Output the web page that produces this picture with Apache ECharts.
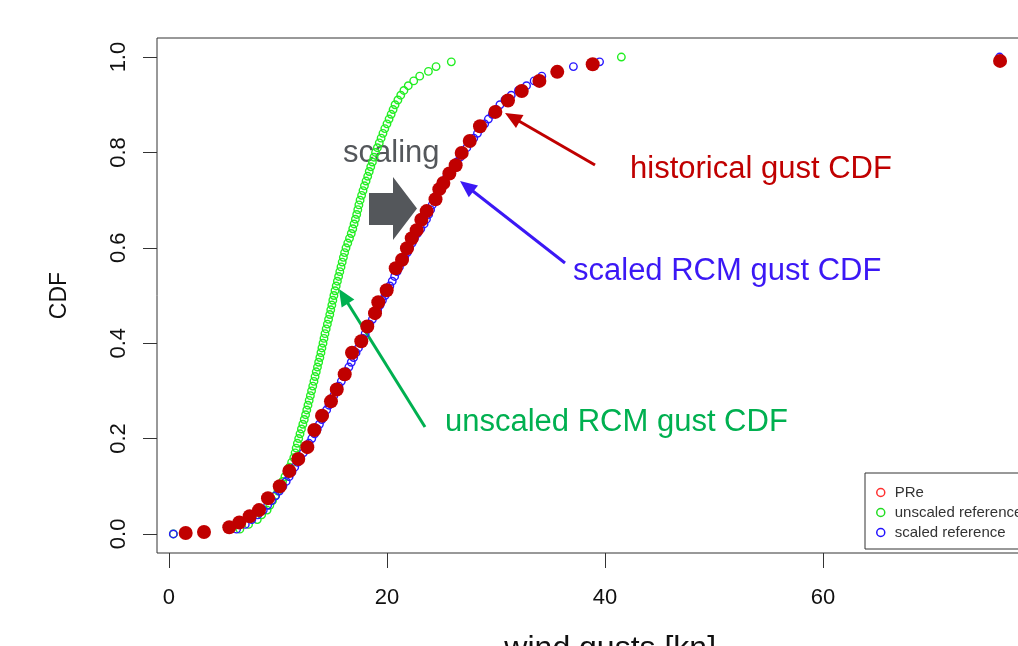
<!DOCTYPE html>
<html>
<head>
<meta charset="utf-8">
<script src="https://cdn.jsdelivr.net/npm/echarts@6/dist/echarts.min.js"></script>
<style>
html, body { margin: 0; padding: 0; background: #fff; }
#main { width: 1018px; height: 646px; }
</style>
</head>
<body>
<div id="main"></div>
<script>
// cdf levels shared by the two reference curves
var cdfLevels = [
    0.00, 0.01, 0.02, 0.03, 0.04, 0.05, 0.06, 0.07, 0.08, 0.09,
    0.10, 0.11, 0.12, 0.13, 0.14, 0.15, 0.16, 0.17, 0.18, 0.19,
    0.20, 0.21, 0.22, 0.23, 0.24, 0.25, 0.26, 0.27, 0.28, 0.29,
    0.30, 0.31, 0.32, 0.33, 0.34, 0.35, 0.36, 0.37, 0.38, 0.39,
    0.40, 0.41, 0.42, 0.43, 0.44, 0.45, 0.46, 0.47, 0.48, 0.49,
    0.50, 0.51, 0.52, 0.53, 0.54, 0.55, 0.56, 0.57, 0.58, 0.59,
    0.60, 0.61, 0.62, 0.63, 0.64, 0.65, 0.66, 0.67, 0.68, 0.69,
    0.70, 0.71, 0.72, 0.73, 0.74, 0.75, 0.76, 0.77, 0.78, 0.79,
    0.80, 0.81, 0.82, 0.83, 0.84, 0.85, 0.86, 0.87, 0.88, 0.89,
    0.90, 0.91, 0.92, 0.93, 0.94, 0.95, 0.96, 0.97, 0.98, 0.99,
    1.00
];

// unscaled reference (green)
var unscaledGust = [
    0.4, 6.5, 7.3, 8.1, 8.5, 9.0, 9.25, 9.5, 9.75, 10.0,
    10.2, 10.42, 10.64, 10.86, 11.05, 11.25, 11.45, 11.57, 11.67, 11.78,
    11.9, 12.02, 12.15, 12.28, 12.41, 12.53, 12.64, 12.75, 12.86, 12.97,
    13.08, 13.19, 13.3, 13.4, 13.51, 13.62, 13.73, 13.84, 13.94, 14.03,
    14.13, 14.22, 14.31, 14.42, 14.53, 14.64, 14.75, 14.84, 14.94, 15.03,
    15.13, 15.23, 15.34, 15.45, 15.56, 15.67, 15.78, 15.89, 16.0, 16.11,
    16.24, 16.4, 16.56, 16.72, 16.86, 16.98, 17.1, 17.22, 17.32, 17.42,
    17.53, 17.67, 17.8, 17.93, 18.08, 18.23, 18.37, 18.51, 18.66, 18.8,
    18.95, 19.12, 19.29, 19.46, 19.63, 19.8, 20.0, 20.19, 20.38, 20.56,
    20.74, 21.0, 21.26, 21.55, 21.95, 22.45, 23.0, 23.8, 24.5, 25.9,
    41.5
];

// scaled reference (blue)
var scaledGust = [
    0.4, 6.2, 7.0, 7.6, 8.15, 8.65, 9.05, 9.42, 9.78, 10.12,
    10.45, 10.75, 11.02, 11.28, 11.53, 11.8, 12.06, 12.32, 12.58, 12.84,
    13.1, 13.36, 13.6, 13.8, 14.02, 14.24, 14.46, 14.68, 14.9, 15.12,
    15.35, 15.58, 15.81, 16.04, 16.26, 16.5, 16.72, 16.94, 17.16, 17.38,
    17.6, 17.8, 18.0, 18.2, 18.42, 18.66, 18.9, 19.14, 19.36, 19.58,
    19.82, 20.04, 20.26, 20.48, 20.7, 20.92, 21.14, 21.38, 21.62, 21.86,
    22.08, 22.3, 22.52, 22.78, 23.1, 23.4, 23.62, 23.82, 24.0, 24.15,
    24.36, 24.56, 24.76, 24.94, 25.24, 25.5, 25.78, 26.1, 26.42, 26.72,
    27.02, 27.32, 27.64, 27.96, 28.3, 28.62, 28.96, 29.3, 29.66, 30.02,
    30.36, 30.82, 31.4, 32.06, 32.8, 33.5, 34.2, 35.7, 37.1, 39.5,
    76.2
];

// historical gusts (PRe, red dots)
var histGust = [
    1.53, 3.21, 5.53, 6.45, 7.40, 8.26, 9.08, 10.16, 11.04, 11.86,
    12.69, 13.33, 14.04, 14.86, 15.39, 16.12, 16.79, 17.64, 18.19, 18.90,
    19.20, 19.97, 20.80, 21.38, 21.83, 22.27, 22.72, 23.15, 23.64, 24.45,
    24.80, 25.17, 25.72, 26.30, 26.85, 27.59, 28.53, 29.94, 31.10, 32.36,
    33.98, 35.62, 38.87, 76.24
];
var histCdf = [
    0.002, 0.004, 0.014, 0.024, 0.037, 0.050, 0.075, 0.100, 0.132, 0.157,
    0.182, 0.218, 0.248, 0.278, 0.303, 0.335, 0.380, 0.404, 0.435, 0.463,
    0.486, 0.511, 0.557, 0.575, 0.599, 0.620, 0.637, 0.659, 0.677, 0.702,
    0.723, 0.736, 0.756, 0.773, 0.799, 0.824, 0.855, 0.885, 0.909, 0.929,
    0.950, 0.969, 0.985, 0.992
];

var xTicks = [0, 20, 40, 60];
var yTicks = [0, 0.2, 0.4, 0.6, 0.8, 1.0];

var pairUp = function(xs, ys) {
    var res = [];
    for (var i = 0; i < xs.length; i++) {
        res.push([xs[i], ys[i]]);
    }
    return res;
};

var FONT = '"Liberation Sans", Arial, sans-serif';

// line with a filled triangular head at (x2, y2)
function arrow(x1, y1, x2, y2, color) {
    var dx = x2 - x1, dy = y2 - y1;
    var len = Math.sqrt(dx * dx + dy * dy);
    var ux = dx / len, uy = dy / len;
    var headLen = 17, headHalf = 7.5;
    var bx = x2 - ux * headLen, by = y2 - uy * headLen;
    return {
        type: 'group',
        children: [{
            type: 'line',
            shape: { x1: x1, y1: y1, x2: bx + ux * 2, y2: by + uy * 2 },
            style: { stroke: color, lineWidth: 3 }
        }, {
            type: 'polygon',
            shape: {
                points: [
                    [x2, y2],
                    [bx - uy * headHalf, by + ux * headHalf],
                    [bx + uy * headHalf, by - ux * headHalf]
                ]
            },
            style: { fill: color }
        }]
    };
}

function label(text, x, y, color) {
    return {
        type: 'text',
        x: x,
        y: y,
        style: {
            text: text,
            fill: color,
            font: '31px ' + FONT,
            textAlign: 'left',
            textVerticalAlign: 'middle',
            verticalAlign: 'middle'
        }
    };
}

var chart = echarts.init(document.getElementById('main'), null, { renderer: 'canvas' });

var option = {
    animation: false,
    backgroundColor: '#fff',
    textStyle: { fontFamily: FONT },
    grid: {
        left: 157,
        top: 38,
        width: 876.4,
        height: 515,
        outerBoundsMode: 'none',
        containLabel: false,
        show: true,
        borderColor: '#333',
        borderWidth: 1,
        backgroundColor: 'transparent'
    },
    legend: {
        orient: 'vertical',
        left: 865,
        top: 473,
        padding: [12, 40, 9, 11],
        itemGap: 5,
        itemWidth: 8,
        itemHeight: 8,
        borderColor: '#333',
        borderWidth: 1,
        borderRadius: 0,
        backgroundColor: '#fff',
        textStyle: { fontSize: 15, color: '#333', padding: [0, 0, 0, 5] },
        data: [{
            name: 'PRe', icon: 'circle',
            itemStyle: { color: 'transparent', borderColor: '#ff3030', borderWidth: 1.5 }
        }, {
            name: 'unscaled reference', icon: 'circle',
            itemStyle: { color: 'transparent', borderColor: '#22dd22', borderWidth: 1.5 }
        }, {
            name: 'scaled reference', icon: 'circle',
            itemStyle: { color: 'transparent', borderColor: '#2211ff', borderWidth: 1.5 }
        }]
    },
    xAxis: {
        type: 'value',
        min: -1.1,
        max: 79.3,
        splitLine: { show: false },
        axisLine: { show: false, onZero: false },
        axisTick: { show: true, inside: false, length: 15, customValues: xTicks, lineStyle: { color: '#333' } },
        axisLabel: { customValues: xTicks, fontSize: 22, color: '#111', margin: 34 },
        name: 'wind gusts [kn]',
        nameLocation: 'middle',
        nameGap: 80,
        nameTextStyle: { fontSize: 32, color: '#111', padding: [0, 0, 0, 30] }
    },
    yAxis: {
        type: 'value',
        min: -0.04,
        max: 1.04,
        splitLine: { show: false },
        axisLine: { show: false, onZero: false },
        axisTick: { show: true, inside: false, length: 14, customValues: yTicks, lineStyle: { color: '#333' } },
        axisLabel: {
            customValues: yTicks, fontSize: 22, color: '#111', margin: 27, rotate: 90,
            formatter: function(v) { return v.toFixed(1); }
        },
        name: 'CDF',
        nameLocation: 'middle',
        nameRotate: 90,
        nameGap: 86,
        nameTextStyle: { fontSize: 23, color: '#111' }
    },
    series: [{
        name: 'unscaled reference',
        type: 'scatter',
        symbol: 'circle',
        symbolSize: 7.5,
        itemStyle: { color: 'transparent', borderColor: '#22ee22', borderWidth: 1.4, opacity: 1 },
        data: pairUp(unscaledGust, cdfLevels),
        z: 2
    }, {
        name: 'scaled reference',
        type: 'scatter',
        symbol: 'circle',
        symbolSize: 7.5,
        itemStyle: { color: 'transparent', borderColor: '#2a18ff', borderWidth: 1.4, opacity: 1 },
        data: pairUp(scaledGust, cdfLevels),
        z: 3
    }, {
        name: 'PRe',
        type: 'scatter',
        symbol: 'circle',
        symbolSize: 14,
        itemStyle: { color: '#c00000', opacity: 1 },
        data: pairUp(histGust, histCdf),
        z: 4
    }],
    graphic: [
        label('scaling', 343, 153, '#54575b'),
        {
            type: 'polygon',
            shape: {
                points: [[369, 193], [393, 193], [393, 177], [417, 208.5], [393, 240], [393, 225], [369, 225]]
            },
            style: { fill: '#54575b' }
        },
        label('historical gust CDF', 630, 169, '#c00000'),
        arrow(595, 165, 505, 113, '#c00000'),
        label('scaled RCM gust CDF', 573, 271, '#3b18f5'),
        arrow(565, 263, 460, 181, '#3b18f5'),
        label('unscaled RCM gust CDF', 445, 422, '#00b050'),
        arrow(425, 427, 339, 289, '#00b050')
    ]
};

chart.setOption(option);
window.onresize = chart.resize;
</script>
</body>
</html>
